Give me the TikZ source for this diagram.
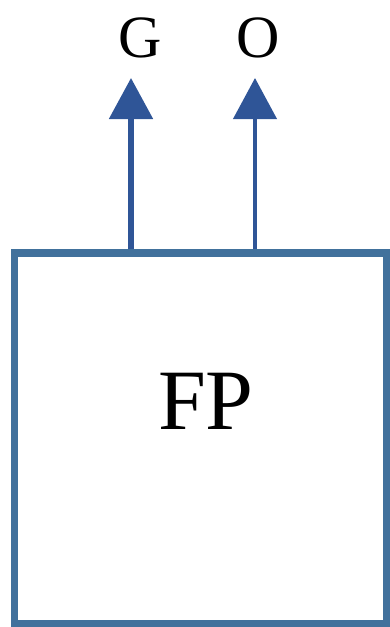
\documentclass[tikz,border=0pt]{standalone}
\usepackage{fontspec}
\setmainfont{Liberation Serif}
\usetikzlibrary{arrows.meta}

\definecolor{boxblue}{RGB}{65,113,156}
\definecolor{arrowblue}{RGB}{47,85,151}

\tikzset{
  fpbox/.style={draw=boxblue, line width=3.75pt, minimum width=186pt, minimum height=185.25pt, inner sep=0pt},
  outarrow/.style={draw=arrowblue, -{Triangle[length=20.5pt,width=21.5pt]}},
  outlabel/.style={font=\fontsize{30}{32}\selectfont, inner sep=0pt}
}

\begin{document}
\begin{tikzpicture}[x=0.5pt, y=-0.5pt]
  \useasboundingbox (0,0) rectangle (390,627);

  % the block
  \node[fpbox] (fp) at (200.5,438.25) {};
  \node[font=\fontsize{43}{46}\selectfont, inner sep=0pt] (fplabel) at (206,401) {FP};

  % outputs
  \node[outlabel] (g) at (140,38) {G};
  \node[outlabel] (o) at (258,38) {O};
  \coordinate (gtip) at (131,78);
  \coordinate (otip) at (255,78);

  \draw[outarrow, line width=2.6pt] (fp.north -| gtip) -- (gtip);
  \draw[outarrow, line width=2.1pt] (fp.north -| otip) -- (otip);
\end{tikzpicture}
\end{document}
